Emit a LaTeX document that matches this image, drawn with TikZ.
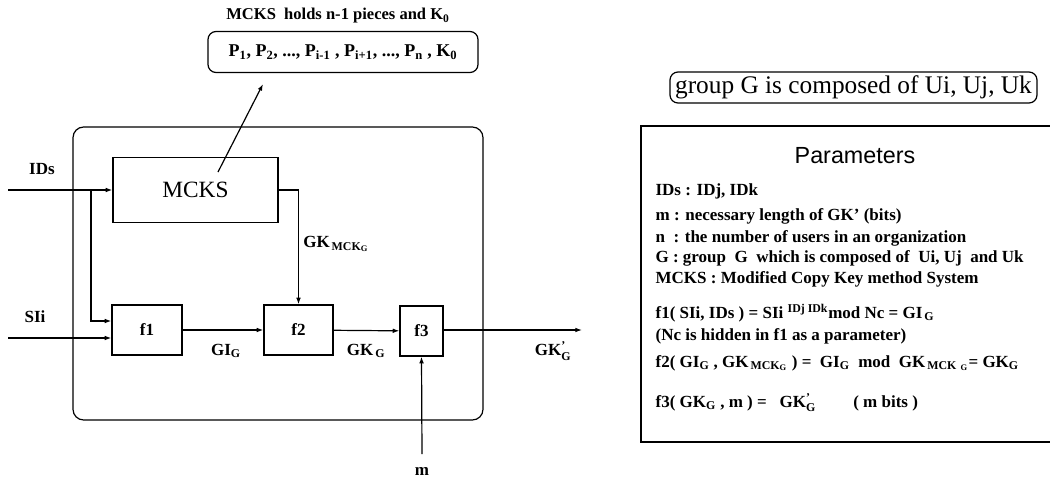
\documentclass[tikz,border=0pt]{standalone}
\usepackage{amsmath}
\usepackage{fontspec}
\setmainfont{Liberation Serif}
\setsansfont{Liberation Sans}
\usetikzlibrary{arrows.meta,calc,positioning}

\begin{document}
\begin{tikzpicture}[
    x=0.75pt, y=-0.75pt,
    >={Latex[length=5pt,width=3.5pt]},
    line width=0.9pt,
    lbl/.style={
        inner sep=0pt,
        font=\fontsize{12.75}{15}\selectfont\bfseries
    },
    fbox/.style={
        lbl,
        draw,
        line width=0.9pt
    },
    rbox/.style={
        draw,
        line width=0.9pt,
        rounded corners=6pt,
        inner sep=0pt
    },
    parline/.style={
        inner sep=0pt,
        anchor=base west,
        font=\fontsize{12.75}{15}\selectfont\bfseries
    }
]
\useasboundingbox (0,0) rectangle (1050,482);

% MCKS storage
\node[lbl, font=\fontsize{12.4}{14}\selectfont\bfseries] (title) at (338,16) {MCKS~ holds n-1 pieces and K$_\text{0}$};
\node[rbox, minimum width=270*0.75pt, minimum height=41*0.75pt, font=\fontsize{13.5}{15}\selectfont\bfseries] (pieces) at (343,52)
    {P$_\text{1}$, P$_\text{2}$, ..., P$_\text{i-1}$ , P$_\text{i+1}$, ..., P$_\text{n}$ , K$_\text{0}$};

% System frame
\draw[rounded corners=8pt] (73,127) rectangle (483,420);

% Blocks
\node[fbox, minimum width=165*0.75pt, minimum height=65*0.75pt, font=\fontsize{17.5}{20}\selectfont] (mcks) at (195.5,190) {MCKS};
\node[fbox, minimum width=70*0.75pt, minimum height=50*0.75pt] (f1) at (147,330) {f1};
\node[fbox, minimum width=69*0.75pt, minimum height=50*0.75pt] (f2) at (298.5,330) {f2};
\node[fbox, minimum width=43*0.75pt, minimum height=50*0.75pt] (f3) at (421.5,331) {f3};

% Inputs / outputs
\coordinate (idsin) at (8,190);
\coordinate (split) at (91,190);
\coordinate (siin) at (8,338);
\coordinate (gkout) at (582,330);
\coordinate (min) at (422,454);
\coordinate (mckstap) at (218,172);
\coordinate (piecesin) at (263,84);

\node[lbl] (ids) at (42,169) {IDs};
\node[lbl] (sii) at (35,317) {SIi};
\node[lbl] (m) at (422,471) {m};

\draw[->] (idsin) -- (mcks.west);
\draw[->] (split) |- ($(f1.west)+(0,-9)$);
\draw[->] (siin) -- (siin -| f1.west);
\draw[->] (mckstap) -- (piecesin);

% Data flow
\draw[->] (mcks.east) -| (f2.north);
\draw[->] (f1) -- (f2);
\draw[->] (f2) -- (f3);
\draw[->] (min) -- (f3.south);
\draw[->] (f3.east |- gkout) -- (gkout);

\node[lbl] (gkmck) at (336,244) {GK$_{\text{\,MCK}_\text{G}}$};
\node[lbl] (gig) at (226,351) {GI$_\text{G}$};
\node[lbl] (gkg) at (366,351) {GK$_\text{\,G}$};
\node[lbl] (gkp) at (553,351) {GK$^{\text{'}}_{\text{G}}$};

% Group
\node[rbox, minimum width=367*0.75pt, minimum height=31*0.75pt, font=\fontsize{19}{21}\selectfont] (group) at (853.5,87.5) {group G is composed of Ui, Uj, Uk};

% Parameters
\draw[line width=1.5pt] (1050,126) -- (641,126) -- (641,442) -- (1050,442);
\node[inner sep=0pt, font=\fontsize{17.5}{20}\selectfont\sffamily] (ptitle) at (855,156) {Parameters};
\node[parline] (pids) at (655,195) {IDs : IDj, IDk};
\node[parline] (pm) at (655,220) {m : necessary length of GK' (bits)};
\node[parline] (pn) at (655,242) {n~ : the number of users in an organization};
\node[parline] (pg) at (655,262) {G : group~ G~ which is composed of~ Ui, Uj~ and Uk};
\node[parline] (pmcks) at (655,283) {MCKS : Modified Copy Key method System};
\node[parline] (pf1) at (655,318) {f1( SIi, IDs ) = SIi $^{\text{IDj IDk}}$mod Nc = GI$_\text{\,G}$};
\node[parline] (pnc) at (655,340) {(Nc is hidden in f1 as a parameter)};
\node[parline] (pf2) at (655,367) {f2( GI$_\text{G}$ , GK$_{\text{\,MCK}_\text{G}}$ ) =~ GI$_\text{G}$~ mod~ GK$_{\text{\,MCK}\ _\text{G}}$= GK$_\text{G}$};
\node[parline] (pf3) at (655,407) {f3( GK$_\text{G}$ , m ) =~ ~GK$^{\text{'}}_{\text{G}}$\hspace{2.2em}( m bits )};

\end{tikzpicture}
\end{document}
